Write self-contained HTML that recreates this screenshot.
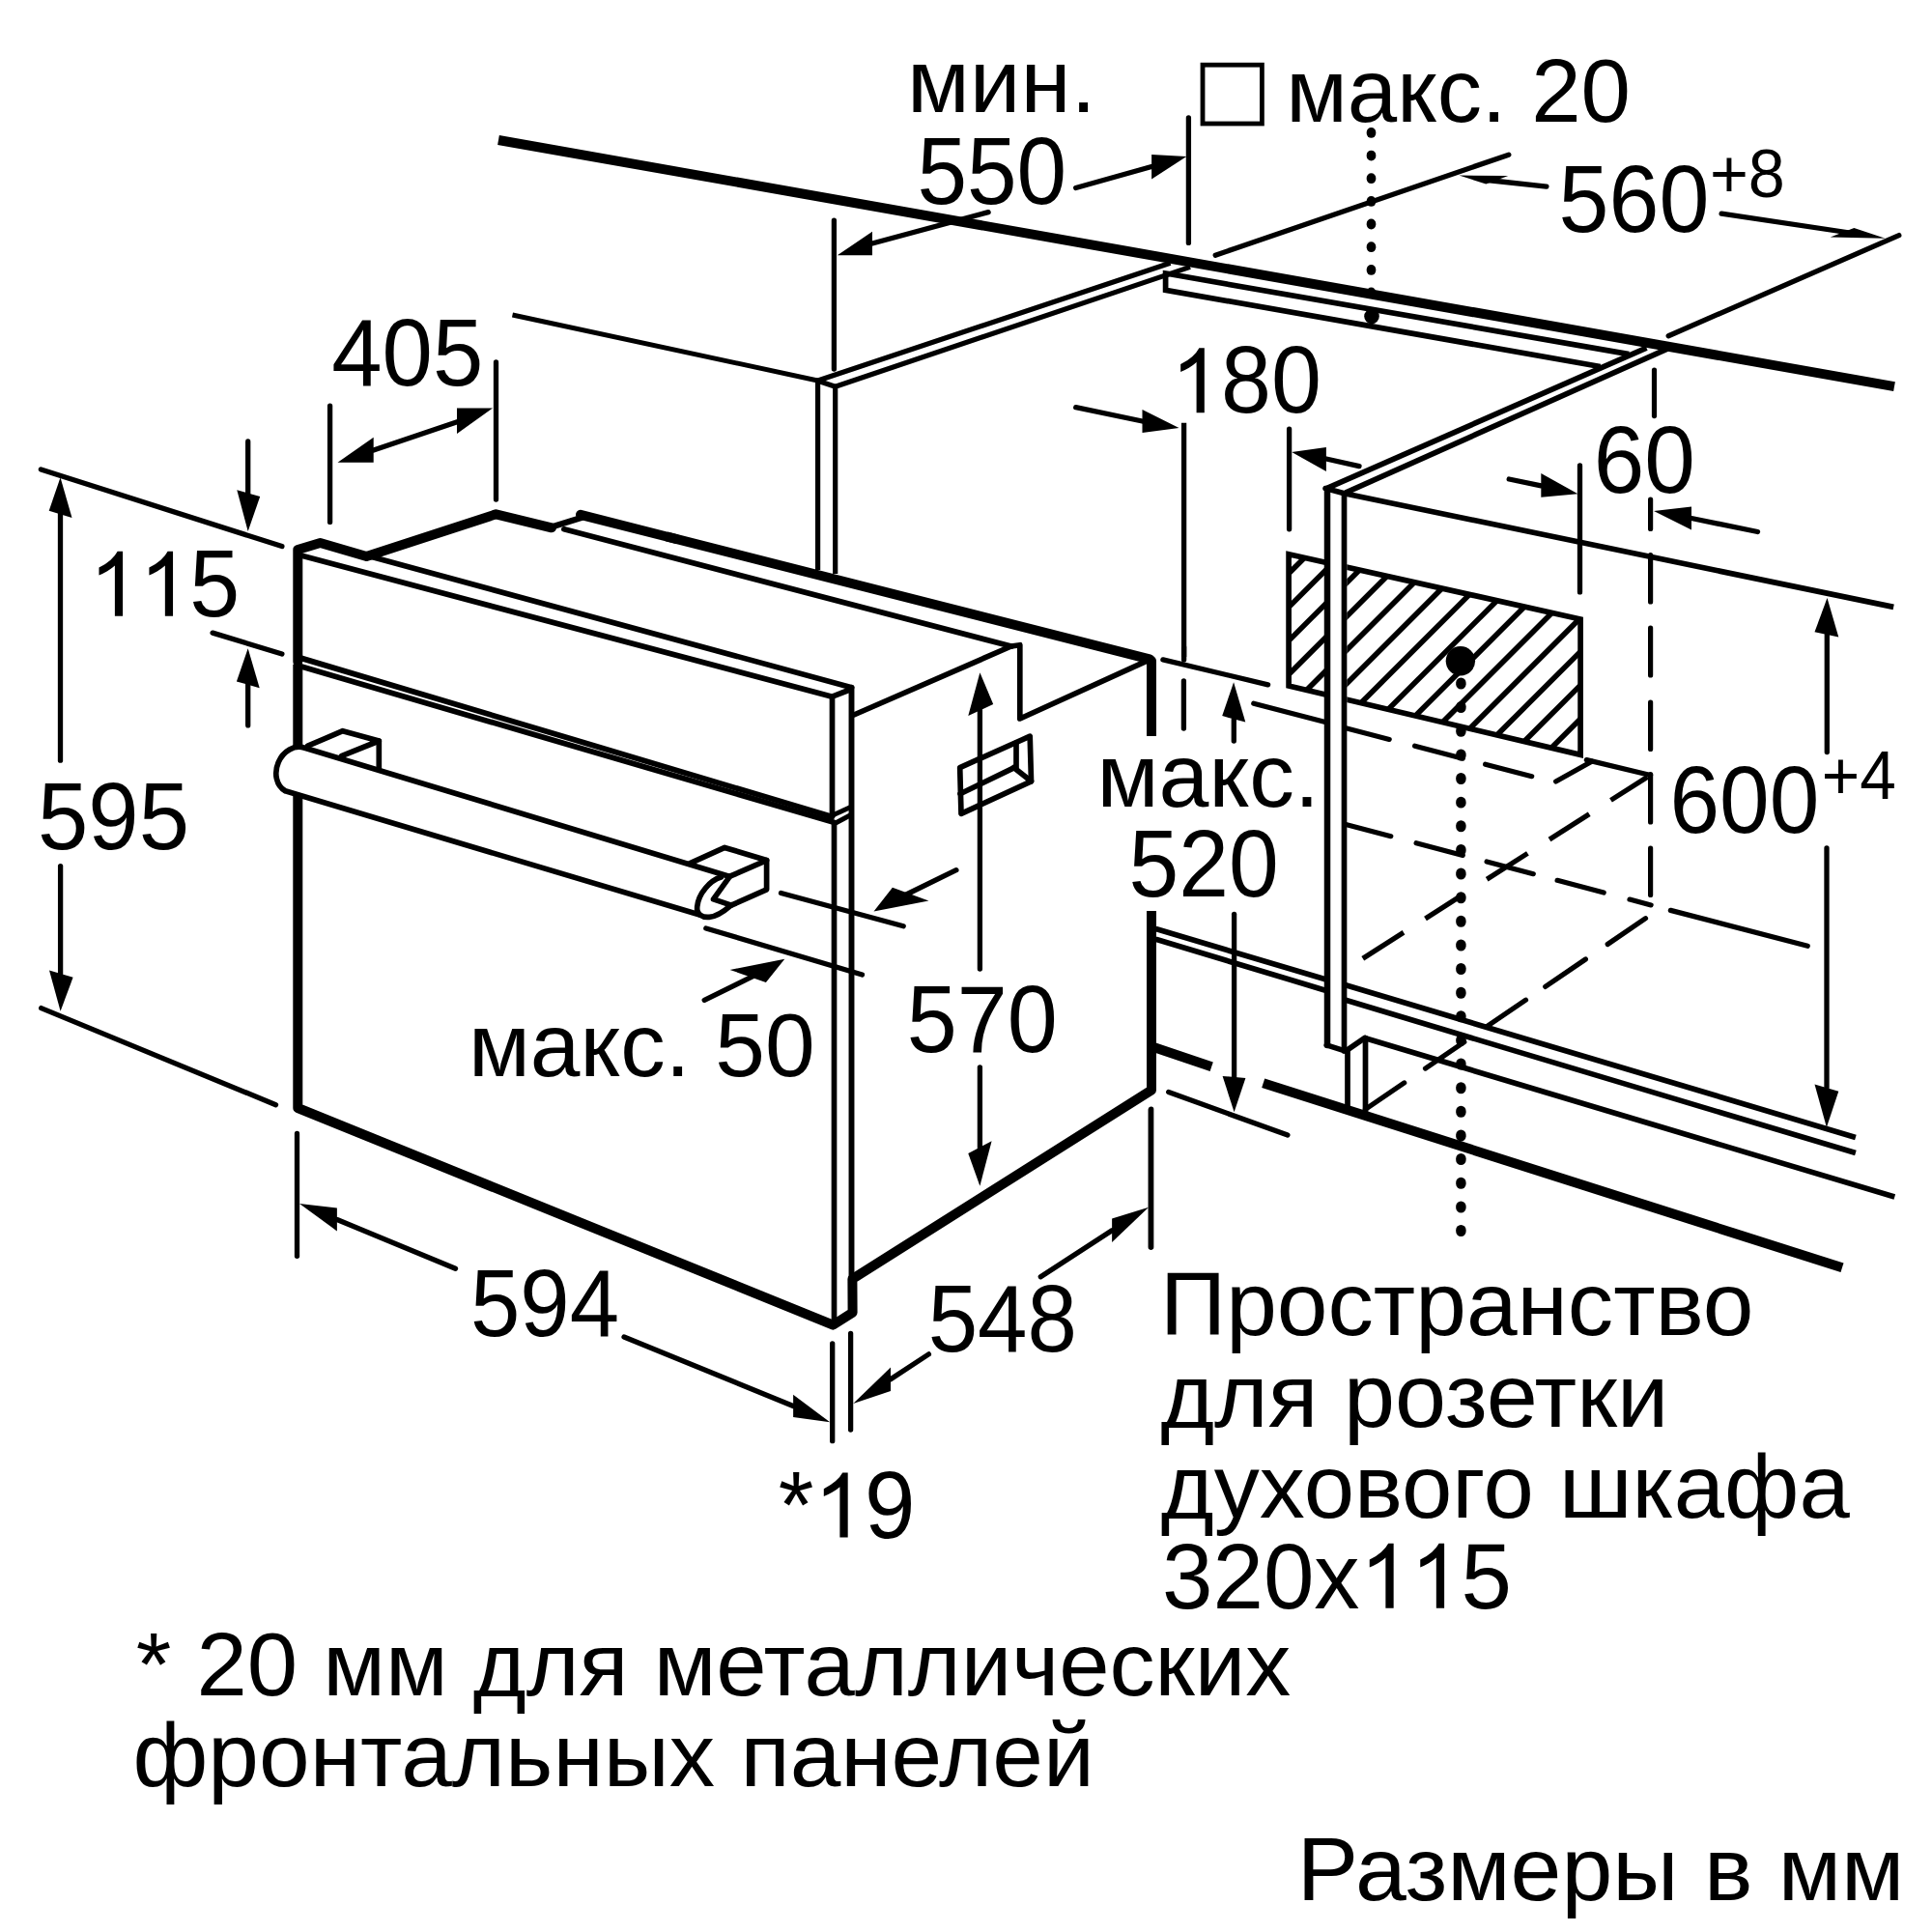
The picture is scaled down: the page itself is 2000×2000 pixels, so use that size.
<!DOCTYPE html>
<html><head><meta charset="utf-8"><title>diagram</title>
<style>
html,body{margin:0;padding:0;background:#fff;}
svg{display:block;}
text{font-family:"Liberation Sans",sans-serif;fill:#000;stroke:none;}
</style></head><body>
<svg width="2000" height="2000" viewBox="0 0 2000 2000" stroke="#000" fill="none">
<rect x="0" y="0" width="2000" height="2000" fill="#fff" stroke="none"/>
<line x1="516" y1="145" x2="1961" y2="400.1" stroke-width="10" stroke-linecap="butt" />
<path d="M308.3 685 L308.3 569 L331.5 562 L379.4 576 L513.5 532.3 L571 546.3" fill="none" stroke-width="10" stroke-linecap="round" stroke-linejoin="round" />
<line x1="571" y1="545.5" x2="601.6" y2="536" stroke-width="6.5" stroke-linecap="round" />
<line x1="601" y1="532.8" x2="700" y2="558" stroke-width="10" stroke-linecap="round" />
<path d="M690 555.4 L1190 682.3 L1192 684 L1192 762" fill="none" stroke-width="10" stroke-linecap="butt" stroke-linejoin="round" />
<path d="M308.3 687.8 L308.3 1147 L862.4 1371.6 L882.6 1358.8 L882.4 1324 L1192 1128.5 L1192 943" fill="none" stroke-width="10" stroke-linecap="butt" stroke-linejoin="round" />
<line x1="1192" y1="1083.3" x2="1254.2" y2="1104.2" stroke-width="10" stroke-linecap="butt" />
<line x1="1307.7" y1="1121.2" x2="1907" y2="1312.3" stroke-width="10" stroke-linecap="butt" />
<line x1="313.5" y1="575.5" x2="861.5" y2="721.2" stroke-width="5.7" stroke-linecap="round" />
<line x1="385" y1="576.5" x2="881.6" y2="711.7" stroke-width="5.7" stroke-linecap="round" />
<line x1="861.5" y1="721.2" x2="881" y2="713.5" stroke-width="5.7" stroke-linecap="round" />
<line x1="861.5" y1="721.2" x2="861.5" y2="845" stroke-width="5.7" stroke-linecap="round" />
<line x1="312" y1="681.4" x2="861.4" y2="845.5" stroke-width="5.8" stroke-linecap="round" />
<line x1="312" y1="690" x2="863.2" y2="851.2" stroke-width="5.8" stroke-linecap="round" />
<line x1="863" y1="843.5" x2="880" y2="835.8" stroke-width="5" stroke-linecap="round" />
<line x1="865" y1="852" x2="880" y2="844" stroke-width="5" stroke-linecap="round" />
<line x1="863.5" y1="851.5" x2="863.5" y2="1368" stroke-width="5.7" stroke-linecap="round" />
<line x1="881.5" y1="711.7" x2="881.5" y2="1324" stroke-width="5.9" stroke-linecap="round" />
<line x1="583.9" y1="547.8" x2="1046.8" y2="669" stroke-width="5.7" stroke-linecap="round" />
<line x1="1046.8" y1="669" x2="884" y2="740" stroke-width="5.7" stroke-linecap="round" />
<path d="M1046.8 669 L1055.8 667.7 L1055.8 744 L1189 683.3" fill="none" stroke-width="5.7" stroke-linecap="round" stroke-linejoin="round" />
<path d="M993.7 794.6 L1066.2 762.2 L1067.5 808.8 L995 842.4 Z" fill="none" stroke-width="5.7" stroke-linecap="round" stroke-linejoin="round" />
<line x1="994" y1="821.7" x2="1048" y2="795.6" stroke-width="5.7" stroke-linecap="round" />
<line x1="1052" y1="769" x2="1052" y2="794.6" stroke-width="5.7" stroke-linecap="round" />
<line x1="1049.4" y1="794.6" x2="1067.5" y2="808.8" stroke-width="5.7" stroke-linecap="round" />
<path d="M318.6 772.2 L354.8 756.7 L392.3 767 L353.5 782.6" fill="none" stroke-width="5.7" stroke-linecap="round" stroke-linejoin="round" />
<line x1="392.3" y1="767" x2="392.3" y2="795.5" stroke-width="5.7" stroke-linecap="round" />
<path d="M314.7 774 L746.3 908.1 C735 911.5 723 925 721.7 938.7 C720.8 946.5 727 950 734.2 949.3 L723.5 946.8 L295.3 818.8 A24.5 20 -66.6 0 1 314.7 774 Z" fill="#fff" stroke="none"/>
<path d="M314.7 774 L754 906.9 M295.3 818.8 L723.5 946.8 M314.7 774 A24.5 20 -66.6 0 0 295.3 818.8" fill="none" stroke-width="5.7" stroke-linecap="round" stroke-linejoin="round"/>
<path d="M714.4 893.7 L750.2 877.4 L793.6 890.6 L755.6 907.2" fill="none" stroke-width="5.7" stroke-linecap="round" stroke-linejoin="round" />
<path d="M793.6 890.6 L793.6 920.8 L757.1 937.1 L738.5 930.9 L755.6 907.2" fill="none" stroke-width="5.7" stroke-linecap="round" stroke-linejoin="round" />
<path d="M746.3 908.1 C735 911.5 723 925 721.7 938.7 C720.8 946.5 727 950 734.2 949.3 C742 948.8 750 943 757.1 936.8" fill="none" stroke-width="5.7" stroke-linecap="round" stroke-linejoin="round"/>
<line x1="530.5" y1="326" x2="845.3" y2="393.7" stroke-width="5" stroke-linecap="butt" />
<path d="M846.6 590 L846.6 394 L1211.5 272.3" fill="none" stroke-width="5.2" stroke-linecap="butt" stroke-linejoin="round" />
<path d="M864.7 594 L864.7 400.2 L1232 276.4" fill="none" stroke-width="5.2" stroke-linecap="butt" stroke-linejoin="round" />
<line x1="845.3" y1="393.7" x2="864.7" y2="400.2" stroke-width="5.2" stroke-linecap="round" />
<path d="M1686.3 366.6 L1208.5 283.3 L1206.6 283 L1206.6 300.3 L1656.6 379.5" fill="none" stroke-width="5.7" stroke-linecap="butt" stroke-linejoin="miter" />
<polygon points="1374,508 1391.5,512 1391.5,1087 1374,1082" fill="#fff" stroke="none"/>
<line x1="1372.1" y1="506.2" x2="1704.5" y2="360.1" stroke-width="5.7" stroke-linecap="butt" />
<line x1="1392.8" y1="510.1" x2="1726" y2="361.2" stroke-width="5.7" stroke-linecap="butt" />
<line x1="1372.1" y1="505.6" x2="1391.5" y2="510.8" stroke-width="5.7" stroke-linecap="round" />
<line x1="1374" y1="506" x2="1374" y2="1082" stroke-width="6.5" stroke-linecap="round" />
<line x1="1391.5" y1="510.8" x2="1391.5" y2="1088" stroke-width="5.7" stroke-linecap="round" />
<line x1="1391.5" y1="510.8" x2="1960.2" y2="628.4" stroke-width="5.7" stroke-linecap="butt" />
<path d="M1373.3 1081.9 L1393 1088.1 L1412.6 1074.6" fill="none" stroke-width="5.7" stroke-linecap="round" stroke-linejoin="round" />
<line x1="1395" y1="1088" x2="1395" y2="1148" stroke-width="5.7" stroke-linecap="round" />
<line x1="1413.5" y1="1074.6" x2="1413.5" y2="1152" stroke-width="5.7" stroke-linecap="round" />
<line x1="1412.6" y1="1074.6" x2="1961.3" y2="1239.1" stroke-width="5.7" stroke-linecap="butt" />
<line x1="1197.3" y1="961.8" x2="1371.2" y2="1013.6" stroke-width="5.7" stroke-linecap="round" />
<line x1="1392.2" y1="1019.6" x2="1920.9" y2="1177.4" stroke-width="5.7" stroke-linecap="butt" />
<line x1="1197.3" y1="972.6" x2="1371.2" y2="1024.9" stroke-width="5.7" stroke-linecap="round" />
<line x1="1392.2" y1="1035.1" x2="1920.9" y2="1193.6" stroke-width="5.7" stroke-linecap="butt" />
<clipPath id="hc"><polygon points="1334.1,573.7 1636.1,641 1636.1,781.3 1334.1,710.1"/></clipPath>
<clipPath id="hc2"><path d="M1300 500 H1371 V900 H1300 Z M1394.3 500 H1700 V900 H1394.3 Z"/></clipPath>
<g clip-path="url(#hc2)"><g clip-path="url(#hc)">
<line x1="1300" y1="627.8" x2="1700" y2="227.8" stroke-width="5.6" stroke-linecap="butt" />
<line x1="1300" y1="662.6" x2="1700" y2="262.6" stroke-width="5.6" stroke-linecap="butt" />
<line x1="1300" y1="697.4" x2="1700" y2="297.4" stroke-width="5.6" stroke-linecap="butt" />
<line x1="1300" y1="732.2" x2="1700" y2="332.2" stroke-width="5.6" stroke-linecap="butt" />
<line x1="1300" y1="767" x2="1700" y2="367" stroke-width="5.6" stroke-linecap="butt" />
<line x1="1300" y1="801.8" x2="1700" y2="401.8" stroke-width="5.6" stroke-linecap="butt" />
<line x1="1300" y1="836.6" x2="1700" y2="436.6" stroke-width="5.6" stroke-linecap="butt" />
<line x1="1300" y1="871.4" x2="1700" y2="471.4" stroke-width="5.6" stroke-linecap="butt" />
<line x1="1300" y1="906.2" x2="1700" y2="506.2" stroke-width="5.6" stroke-linecap="butt" />
<line x1="1300" y1="941" x2="1700" y2="541" stroke-width="5.6" stroke-linecap="butt" />
<line x1="1300" y1="975.8" x2="1700" y2="575.8" stroke-width="5.6" stroke-linecap="butt" />
<line x1="1300" y1="1010.6" x2="1700" y2="610.6" stroke-width="5.6" stroke-linecap="butt" />
<line x1="1300" y1="1045.4" x2="1700" y2="645.4" stroke-width="5.6" stroke-linecap="butt" />
<line x1="1300" y1="1080.2" x2="1700" y2="680.2" stroke-width="5.6" stroke-linecap="butt" />
<line x1="1300" y1="1115" x2="1700" y2="715" stroke-width="5.6" stroke-linecap="butt" />
<line x1="1300" y1="1149.8" x2="1700" y2="749.8" stroke-width="5.6" stroke-linecap="butt" />
<line x1="1300" y1="1184.6" x2="1700" y2="784.6" stroke-width="5.6" stroke-linecap="butt" />
<line x1="1300" y1="1219.4" x2="1700" y2="819.4" stroke-width="5.6" stroke-linecap="butt" />
<line x1="1300" y1="1254.2" x2="1700" y2="854.2" stroke-width="5.6" stroke-linecap="butt" />
<line x1="1300" y1="1289" x2="1700" y2="889" stroke-width="5.6" stroke-linecap="butt" />
</g></g>
<g clip-path="url(#hc2)">
<path d="M1334.1 573.7 L1636.1 641 L1636.1 781.3 L1334.1 710.1 Z" fill="none" stroke-width="5.7" stroke-linecap="round" stroke-linejoin="miter" />
</g>
<line x1="1712.5" y1="383" x2="1712.5" y2="430.6" stroke-width="5.2" stroke-linecap="round" />
<line x1="1708.6" y1="517" x2="1708.6" y2="547.5" stroke-width="5.2" stroke-linecap="round" />
<line x1="1708.6" y1="574.5" x2="1708.6" y2="623" stroke-width="5.2" stroke-linecap="round" />
<line x1="1708.6" y1="650" x2="1708.6" y2="699" stroke-width="5.2" stroke-linecap="round" />
<line x1="1708.6" y1="727" x2="1708.6" y2="775.5" stroke-width="5.2" stroke-linecap="round" />
<line x1="1708.6" y1="801.5" x2="1708.6" y2="851" stroke-width="5.2" stroke-linecap="round" />
<line x1="1708.6" y1="878" x2="1708.6" y2="926.5" stroke-width="5.2" stroke-linecap="round" />
<line x1="1225.4" y1="705" x2="1225.4" y2="754" stroke-width="5.3" stroke-linecap="round" />
<line x1="1297.8" y1="728.2" x2="1371" y2="747.2" stroke-width="5.3" stroke-linecap="round" />
<line x1="1393.2" y1="753.7" x2="1438.2" y2="765.4" stroke-width="5.2" stroke-linecap="round" />
<line x1="1464.6" y1="772.2" x2="1514.3" y2="785.2" stroke-width="5.2" stroke-linecap="round" />
<line x1="1537.6" y1="791.2" x2="1585.7" y2="803.7" stroke-width="5.2" stroke-linecap="round" />
<line x1="1610.6" y1="809" x2="1647.8" y2="788.2" stroke-width="5.2" stroke-linecap="round" />
<line x1="1642.4" y1="786.7" x2="1708.6" y2="802.5" stroke-width="5.3" stroke-linecap="round" />
<line x1="1705.5" y1="804.2" x2="1667.5" y2="828.4" stroke-width="5.2" stroke-linecap="butt" />
<line x1="1645.2" y1="842.7" x2="1604" y2="869" stroke-width="5.2" stroke-linecap="butt" />
<line x1="1581.4" y1="883.4" x2="1539.2" y2="910.3" stroke-width="5.2" stroke-linecap="butt" />
<line x1="1513.3" y1="926.8" x2="1475.5" y2="951" stroke-width="5.2" stroke-linecap="butt" />
<line x1="1453" y1="965.3" x2="1410.8" y2="992.2" stroke-width="5.2" stroke-linecap="butt" />
<line x1="1393.2" y1="853.4" x2="1439.8" y2="865.7" stroke-width="5.2" stroke-linecap="round" />
<line x1="1466.1" y1="872.7" x2="1514.3" y2="885.4" stroke-width="5.2" stroke-linecap="round" />
<line x1="1539.1" y1="892" x2="1587.3" y2="904.7" stroke-width="5.2" stroke-linecap="round" />
<line x1="1612.1" y1="911.3" x2="1660.2" y2="924" stroke-width="5.2" stroke-linecap="round" />
<line x1="1687" y1="931.1" x2="1709.1" y2="936.9" stroke-width="5.2" stroke-linecap="round" />
<line x1="1729.4" y1="942.4" x2="1871.2" y2="979.3" stroke-width="5.3" stroke-linecap="round" />
<line x1="1703.5" y1="950.7" x2="1664.2" y2="977.5" stroke-width="5.2" stroke-linecap="round" />
<line x1="1641.4" y1="993" x2="1599.7" y2="1021.4" stroke-width="5.2" stroke-linecap="round" />
<line x1="1579.5" y1="1035.2" x2="1539.1" y2="1062.7" stroke-width="5.2" stroke-linecap="round" />
<line x1="1515.8" y1="1078.6" x2="1475.5" y2="1106.1" stroke-width="5.2" stroke-linecap="round" />
<line x1="1453.7" y1="1120.9" x2="1413.4" y2="1148.4" stroke-width="5.2" stroke-linecap="round" />
<line x1="1419.5" y1="136.8" x2="1419.5" y2="138" stroke-width="9.6" stroke-linecap="round" />
<line x1="1419.5" y1="160.5" x2="1419.5" y2="161.7" stroke-width="9.6" stroke-linecap="round" />
<line x1="1419.5" y1="184.1" x2="1419.5" y2="185.3" stroke-width="9.6" stroke-linecap="round" />
<line x1="1419.5" y1="207.8" x2="1419.5" y2="209" stroke-width="9.6" stroke-linecap="round" />
<line x1="1419.5" y1="231.4" x2="1419.5" y2="232.6" stroke-width="9.6" stroke-linecap="round" />
<line x1="1419.5" y1="255.1" x2="1419.5" y2="256.3" stroke-width="9.6" stroke-linecap="round" />
<line x1="1419.5" y1="278.8" x2="1419.5" y2="280" stroke-width="9.6" stroke-linecap="round" />
<line x1="1419.5" y1="302.4" x2="1419.5" y2="303.6" stroke-width="9.6" stroke-linecap="round" />
<circle cx="1420" cy="327.6" r="7.8" fill="#000" stroke="none"/>
<circle cx="1511.9" cy="684.2" r="15.2" fill="#000" stroke="none"/>
<line x1="1512.4" y1="706.7" x2="1512.4" y2="708.3" stroke-width="10.4" stroke-linecap="round" />
<line x1="1512.4" y1="731.3" x2="1512.4" y2="732.9" stroke-width="10.4" stroke-linecap="round" />
<line x1="1512.4" y1="756" x2="1512.4" y2="757.6" stroke-width="10.4" stroke-linecap="round" />
<line x1="1512.4" y1="780.6" x2="1512.4" y2="782.2" stroke-width="10.4" stroke-linecap="round" />
<line x1="1512.4" y1="805.2" x2="1512.4" y2="806.8" stroke-width="10.4" stroke-linecap="round" />
<line x1="1512.4" y1="829.9" x2="1512.4" y2="831.4" stroke-width="10.4" stroke-linecap="round" />
<line x1="1512.4" y1="854.5" x2="1512.4" y2="856.1" stroke-width="10.4" stroke-linecap="round" />
<line x1="1512.4" y1="879.1" x2="1512.4" y2="880.7" stroke-width="10.4" stroke-linecap="round" />
<line x1="1512.4" y1="903.7" x2="1512.4" y2="905.3" stroke-width="10.4" stroke-linecap="round" />
<line x1="1512.4" y1="928.4" x2="1512.4" y2="930" stroke-width="10.4" stroke-linecap="round" />
<line x1="1512.4" y1="953" x2="1512.4" y2="954.6" stroke-width="10.4" stroke-linecap="round" />
<line x1="1512.4" y1="977.6" x2="1512.4" y2="979.2" stroke-width="10.4" stroke-linecap="round" />
<line x1="1512.4" y1="1002.3" x2="1512.4" y2="1003.9" stroke-width="10.4" stroke-linecap="round" />
<line x1="1512.4" y1="1026.9" x2="1512.4" y2="1028.5" stroke-width="10.4" stroke-linecap="round" />
<line x1="1512.4" y1="1051.5" x2="1512.4" y2="1053.1" stroke-width="10.4" stroke-linecap="round" />
<line x1="1512.4" y1="1076.2" x2="1512.4" y2="1077.8" stroke-width="10.4" stroke-linecap="round" />
<line x1="1512.4" y1="1100.8" x2="1512.4" y2="1102.4" stroke-width="10.4" stroke-linecap="round" />
<line x1="1512.4" y1="1125.4" x2="1512.4" y2="1127" stroke-width="10.4" stroke-linecap="round" />
<line x1="1512.4" y1="1150" x2="1512.4" y2="1151.6" stroke-width="10.4" stroke-linecap="round" />
<line x1="1512.4" y1="1174.7" x2="1512.4" y2="1176.3" stroke-width="10.4" stroke-linecap="round" />
<line x1="1512.4" y1="1199.3" x2="1512.4" y2="1200.9" stroke-width="10.4" stroke-linecap="round" />
<line x1="1512.4" y1="1223.9" x2="1512.4" y2="1225.5" stroke-width="10.4" stroke-linecap="round" />
<line x1="1512.4" y1="1248.6" x2="1512.4" y2="1250.2" stroke-width="10.4" stroke-linecap="round" />
<line x1="1512.4" y1="1273.2" x2="1512.4" y2="1274.8" stroke-width="10.4" stroke-linecap="round" />
<line x1="863.4" y1="228.1" x2="863.4" y2="382.1" stroke-width="5.3" stroke-linecap="round" />
<line x1="1230.4" y1="122" x2="1230.4" y2="251.4" stroke-width="5.3" stroke-linecap="round" />
<line x1="903" y1="252" x2="1023.1" y2="219.6" stroke-width="5.3" stroke-linecap="round" />
<polygon points="866.8,264.3 903,239.8 903,264.3" fill="#000" stroke="none"/>
<line x1="1113.7" y1="194.5" x2="1192.1" y2="172.5" stroke-width="5.3" stroke-linecap="round" />
<polygon points="1228.3,162.1 1192.1,160 1192.1,185.4" fill="#000" stroke="none"/>
<line x1="1258.2" y1="264.2" x2="1561.8" y2="160.2" stroke-width="5.3" stroke-linecap="round" />
<line x1="1727.2" y1="347.7" x2="1965.8" y2="243.6" stroke-width="5.3" stroke-linecap="round" />
<polygon points="1510.4,181.5 1561.3,182 1538.3,190.6" fill="#000" stroke="none"/>
<line x1="1540" y1="186.5" x2="1600.9" y2="193.2" stroke-width="5.3" stroke-linecap="round" />
<line x1="1782.1" y1="221.1" x2="1915" y2="241" stroke-width="5.3" stroke-linecap="round" />
<polygon points="1951.6,246.7 1919.3,235.9 1894.7,245.4" fill="#000" stroke="none"/>
<line x1="341.6" y1="420.1" x2="341.6" y2="540.4" stroke-width="5.3" stroke-linecap="round" />
<line x1="513.5" y1="375" x2="513.5" y2="517" stroke-width="5.3" stroke-linecap="round" />
<line x1="386.7" y1="466" x2="474" y2="436.5" stroke-width="5.3" stroke-linecap="round" />
<polygon points="349.5,478.7 386.7,452.8 386.7,478.7" fill="#000" stroke="none"/>
<polygon points="510,422.5 473,422.5 473,449" fill="#000" stroke="none"/>
<line x1="42.4" y1="485.9" x2="291.9" y2="565.6" stroke-width="5.3" stroke-linecap="round" />
<line x1="220.1" y1="655.1" x2="291.9" y2="677" stroke-width="5.3" stroke-linecap="round" />
<line x1="256.7" y1="456.9" x2="256.7" y2="512" stroke-width="5.3" stroke-linecap="round" />
<polygon points="256.7,550.1 245.3,507.2 269.2,513.9" fill="#000" stroke="none"/>
<line x1="256.7" y1="708" x2="256.7" y2="750.9" stroke-width="5.3" stroke-linecap="round" />
<polygon points="256.7,671.2 244.9,705.4 268.7,712.2" fill="#000" stroke="none"/>
<line x1="62.5" y1="530" x2="62.5" y2="787.2" stroke-width="5.3" stroke-linecap="round" />
<polygon points="62.5,494.2 50.7,528.8 74.5,536" fill="#000" stroke="none"/>
<line x1="62.6" y1="896.6" x2="62.6" y2="1008" stroke-width="5.3" stroke-linecap="round" />
<polygon points="62.6,1046.7 51,1004.5 75.6,1011.8" fill="#000" stroke="none"/>
<line x1="42.7" y1="1043.6" x2="285.5" y2="1143.7" stroke-width="5.3" stroke-linecap="round" />
<line x1="307.5" y1="1173.5" x2="307.5" y2="1300.3" stroke-width="5.3" stroke-linecap="round" />
<line x1="348.9" y1="1262.5" x2="471.5" y2="1313.3" stroke-width="5.3" stroke-linecap="round" />
<polygon points="310,1246 348.9,1250.6 348.9,1274.4" fill="#000" stroke="none"/>
<line x1="646" y1="1384" x2="821.1" y2="1455.5" stroke-width="5.3" stroke-linecap="round" />
<polygon points="859.2,1472.3 821.1,1443.8 821.1,1467.1" fill="#000" stroke="none"/>
<line x1="861.7" y1="1390.8" x2="861.7" y2="1491.7" stroke-width="5.3" stroke-linecap="round" />
<line x1="880.6" y1="1380.4" x2="880.6" y2="1480" stroke-width="5.3" stroke-linecap="round" />
<line x1="961.4" y1="1401.9" x2="922" y2="1427.7" stroke-width="5.3" stroke-linecap="round" />
<polygon points="883.2,1452.9 922,1415.4 922,1440" fill="#000" stroke="none"/>
<line x1="1077.3" y1="1321.7" x2="1151.1" y2="1273.7" stroke-width="5.3" stroke-linecap="round" />
<polygon points="1189.1,1249.7 1151.1,1261.4 1151.1,1286" fill="#000" stroke="none"/>
<line x1="1191.2" y1="1148.8" x2="1191.2" y2="1291.1" stroke-width="5.3" stroke-linecap="round" />
<line x1="1014.4" y1="735" x2="1014.4" y2="1003" stroke-width="5.3" stroke-linecap="round" />
<polygon points="1014.4,696.2 1002.3,741 1028.2,729.1" fill="#000" stroke="none"/>
<line x1="1014.4" y1="1104.8" x2="1014.4" y2="1188" stroke-width="5.3" stroke-linecap="round" />
<polygon points="1014.4,1227.7 1002.3,1194.1 1026.6,1181.2" fill="#000" stroke="none"/>
<line x1="808.5" y1="924.5" x2="935.2" y2="958.7" stroke-width="5.3" stroke-linecap="round" />
<line x1="730.8" y1="961" x2="892.5" y2="1009" stroke-width="5.3" stroke-linecap="round" />
<line x1="989.9" y1="900.7" x2="930" y2="930" stroke-width="5.3" stroke-linecap="round" />
<polygon points="904.5,943.4 923.9,918.8 961.4,932.5" fill="#000" stroke="none"/>
<line x1="729.2" y1="1035.3" x2="778.9" y2="1010.9" stroke-width="5.3" stroke-linecap="round" />
<polygon points="812.3,992.7 755.6,1003.9 792.9,1017.1" fill="#000" stroke="none"/>
<line x1="1113.7" y1="421.7" x2="1182.5" y2="436" stroke-width="5.3" stroke-linecap="round" />
<polygon points="1220.5,442.9 1182.5,424 1182.5,448.1" fill="#000" stroke="none"/>
<line x1="1225.6" y1="437.7" x2="1225.6" y2="680" stroke-width="5.3" stroke-linecap="butt" />
<line x1="1225.6" y1="670" x2="1225.6" y2="682.9" stroke-width="5.3" stroke-linecap="round" />
<line x1="1334.6" y1="444.1" x2="1334.6" y2="547.8" stroke-width="5.3" stroke-linecap="round" />
<line x1="1372.9" y1="475" x2="1407" y2="482.6" stroke-width="5.3" stroke-linecap="round" />
<polygon points="1337.2,468 1372.9,463.1 1372.9,488" fill="#000" stroke="none"/>
<line x1="1562.2" y1="496" x2="1595.3" y2="502.8" stroke-width="5.3" stroke-linecap="round" />
<polygon points="1633.4,511.2 1595.3,490.1 1595.3,514.7" fill="#000" stroke="none"/>
<line x1="1635.5" y1="482" x2="1635.5" y2="612.9" stroke-width="5.3" stroke-linecap="round" />
<line x1="1751" y1="536.5" x2="1819.5" y2="550.5" stroke-width="5.3" stroke-linecap="round" />
<polygon points="1712,529 1751,524.4 1751,548.5" fill="#000" stroke="none"/>
<line x1="1203.9" y1="682.9" x2="1312.6" y2="708.8" stroke-width="5.3" stroke-linecap="round" />
<line x1="1277.3" y1="745" x2="1277.3" y2="767" stroke-width="5.3" stroke-linecap="round" />
<polygon points="1277.1,706.2 1265.2,741.1 1289.3,747.6" fill="#000" stroke="none"/>
<line x1="1277.6" y1="946.3" x2="1277.6" y2="1115" stroke-width="5.3" stroke-linecap="round" />
<polygon points="1277.6,1151.2 1265.6,1114 1289.4,1116" fill="#000" stroke="none"/>
<line x1="1209.7" y1="1130.5" x2="1332.9" y2="1175.1" stroke-width="5.3" stroke-linecap="round" />
<line x1="1191.7" y1="1148.1" x2="1191.7" y2="1291" stroke-width="5.3" stroke-linecap="round" />
<line x1="1891.3" y1="657" x2="1891.3" y2="778.5" stroke-width="5.3" stroke-linecap="round" />
<polygon points="1891.5,619 1878.5,654.2 1903.3,659.4" fill="#000" stroke="none"/>
<line x1="1891" y1="877.8" x2="1891" y2="1126" stroke-width="5.3" stroke-linecap="round" />
<polygon points="1890.9,1167.1 1878.5,1122.6 1903.3,1129.8" fill="#000" stroke="none"/>
<rect x="1245" y="67.2" width="61.4" height="60.8" fill="none" stroke-width="4.8"/>
<text transform="translate(939.05,115.50) scale(1.0089,1.0000)" font-size="93.4">мин.</text>
<text transform="translate(949.43,211.00) scale(0.9932,1.0450)" font-size="93.4">550</text>
<text transform="translate(1331.26,126.30) scale(0.9895,1.0000)" font-size="93.4">макс. 20</text>
<text transform="translate(1613.60,240.00) scale(1.0000,1.0450)" font-size="93.4">560</text>
<text transform="translate(1769.88,204.20) scale(1.0056,1.0450)" font-size="68">+8</text>
<text transform="translate(343.18,399.00) scale(1.0080,1.0450)" font-size="93.4">405</text>
<g transform="translate(1212.00,427.30) scale(1.0000,1.0450)"><text x="51.95 103.90" y="0" font-size="93.4">80</text><path d="M763 0H583V1147Q518 1085 412.5 1023T223 930V1104Q373 1174.5 485 1275T644 1470H763Z" transform="translate(0.00,0) scale(0.04561,-0.04364)" fill="#000" stroke="none"/></g>
<text transform="translate(1649.74,509.50) scale(1.0126,1.0450)" font-size="93.4">60</text>
<g transform="translate(92.30,637.80) scale(1.0000,1.0450)"><text x="103.90" y="0" font-size="93.4">5</text><path d="M763 0H583V1147Q518 1085 412.5 1023T223 930V1104Q373 1174.5 485 1275T644 1470H763Z" transform="translate(0.00,0) scale(0.04561,-0.04364)" fill="#000" stroke="none"/><path d="M763 0H583V1147Q518 1085 412.5 1023T223 930V1104Q373 1174.5 485 1275T644 1470H763Z" transform="translate(51.95,0) scale(0.04561,-0.04364)" fill="#000" stroke="none"/></g>
<text transform="translate(39.07,879.00) scale(1.0068,1.0450)" font-size="93.4">595</text>
<text transform="translate(1135.41,834.50) scale(0.9986,1.0000)" font-size="93.4">макс.</text>
<text transform="translate(1168.52,928.40) scale(0.9959,1.0450)" font-size="93.4">520</text>
<text transform="translate(1728.53,862.00) scale(0.9932,1.0450)" font-size="93.4">600</text>
<text transform="translate(1885.82,827.10) scale(0.9932,1.0450)" font-size="68">+4</text>
<text transform="translate(484.93,1114.40) scale(0.9949,1.0000)" font-size="93.4">макс. 50</text>
<text transform="translate(938.70,1088.50) scale(1.0007,1.0450)" font-size="93.4">570</text>
<text transform="translate(486.95,1383.00) scale(0.9886,1.0450)" font-size="93.4">594</text>
<text transform="translate(960.64,1399.00) scale(0.9892,1.0450)" font-size="93.4">548</text>
<g transform="translate(805.80,1591.50) scale(1.0100,1.0450)"><text x="0.00 88.32" y="0" font-size="93.4">*9</text><path d="M763 0H583V1147Q518 1085 412.5 1023T223 930V1104Q373 1174.5 485 1275T644 1470H763Z" transform="translate(36.37,0) scale(0.04561,-0.04364)" fill="#000" stroke="none"/></g>
<text transform="translate(1201.09,1382.30) scale(1.0140,1.0000)" font-size="93.4">Пространство</text>
<text transform="translate(1201.38,1476.50) scale(1.0217,1.0000)" font-size="93.4">для розетки</text>
<text transform="translate(1201.79,1570.60) scale(1.0074,1.0000)" font-size="93.4">духового шкафа</text>
<g transform="translate(1203.00,1664.80) scale(1.0097,1.0300)"><text x="0.00 51.95 103.90 155.85 306.45" y="0" font-size="93.4">320x5</text><path d="M763 0H583V1147Q518 1085 412.5 1023T223 930V1104Q373 1174.5 485 1275T644 1470H763Z" transform="translate(202.55,0) scale(0.04561,-0.04428)" fill="#000" stroke="none"/><path d="M763 0H583V1147Q518 1085 412.5 1023T223 930V1104Q373 1174.5 485 1275T644 1470H763Z" transform="translate(254.50,0) scale(0.04561,-0.04428)" fill="#000" stroke="none"/></g>
<text transform="translate(140.79,1755.20) scale(1.0073,1.0000)" font-size="93.4">* 20 мм для металлических</text>
<text transform="translate(137.45,1849.20) scale(1.0137,1.0000)" font-size="93.4">фронтальных панелей</text>
<text transform="translate(1342.76,1967.30) scale(1.0172,1.0000)" font-size="93.4">Размеры в мм</text>
</svg>
</body></html>
